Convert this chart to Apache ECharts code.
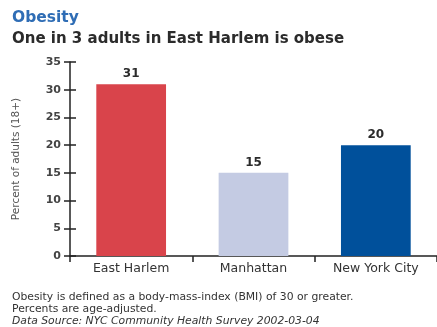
<!DOCTYPE html>
<html>
<head>
<meta charset="utf-8">
<style>
  html, body { margin: 0; padding: 0; background: #fff; }
  #chart { width: 437px; height: 327px; }
</style>
<script src="https://cdn.jsdelivr.net/npm/echarts@6/dist/echarts.min.js"></script>
</head>
<body>
<div id="chart"></div>
<script>
// Obesity rates among adults, by area
const categories = ['East Harlem', 'Manhattan', 'New York City'];
const values = [31, 15, 20];
const barColors = ['#D9444B', '#C4CBE3', '#00509B'];
const yTicks = [0, 5, 10, 15, 20, 25, 30, 35];

const FONT = '"DejaVu Sans", "Open Sans", sans-serif';
const axisDark = '#222';

const chart = echarts.init(document.getElementById('chart'), null, { renderer: 'canvas' });

const yMin = yTicks[0];
const yMax = yTicks[yTicks.length - 1];
const yStep = yTicks[1] - yTicks[0];

chart.setOption({
  animation: false,
  backgroundColor: '#fff',
  title: [
    {
      text: 'Obesity',
      left: 7, top: 5,
      textStyle: { fontFamily: FONT, fontSize: 15.5, fontWeight: 'bold', color: '#2F6DB5' }
    },
    {
      text: 'One in 3 adults in East Harlem is obese',
      left: 7, top: 27,
      textStyle: { fontFamily: FONT, fontSize: 15, fontWeight: 'bold', color: '#2b2b2b' }
    }
  ],
  graphic: [
    {
      type: 'text', left: 12, top: 292,
      style: { text: 'Obesity is defined as a body-mass-index (BMI) of 30 or greater.', font: '10.8px ' + FONT, fill: '#333' }
    },
    {
      type: 'text', left: 12, top: 304,
      style: { text: 'Percents are age-adjusted.', font: '10.8px ' + FONT, fill: '#333' }
    },
    {
      type: 'text', left: 12, top: 316,
      style: { text: 'Data Source: NYC Community Health Survey 2002-03-04', font: 'italic 10.8px ' + FONT, fill: '#333' }
    }
  ],
  grid: { left: 70, right: 0, top: 62, bottom: 71, containLabel: false },
  xAxis: {
    type: 'category',
    data: categories,
    axisLine: { lineStyle: { color: axisDark, width: 1.5 } },
    axisTick: { show: true, length: 6, alignWithLabel: false, lineStyle: { color: axisDark, width: 1.5 } },
    axisLabel: { fontFamily: FONT, fontSize: 12.5, color: '#333', margin: 6 }
  },
  yAxis: [
    {
      type: 'value',
      min: yMin, max: yMax, interval: yStep,
      name: 'Percent of adults (18+)',
      nameLocation: 'middle',
      nameGap: 48,
      nameRotate: 90,
      nameTextStyle: { fontFamily: FONT, fontSize: 10.5, color: '#555' },
      axisLine: { show: true, lineStyle: { color: axisDark, width: 1.5 } },
      axisTick: { show: true, length: 6, lineStyle: { color: axisDark, width: 1.5 } },
      axisLabel: { fontFamily: FONT, fontSize: 11, fontWeight: 'bold', color: '#444', margin: 9 },
      splitLine: { show: false }
    },
    {
      // inward half of the crossing ticks
      type: 'value',
      position: 'left',
      min: yMin, max: yMax, interval: yStep,
      axisLine: { show: false },
      axisTick: { show: true, inside: true, length: 6, lineStyle: { color: axisDark, width: 1.5 } },
      axisLabel: { show: false },
      splitLine: { show: false }
    }
  ],
  series: [
    {
      type: 'bar',
      yAxisIndex: 0,
      data: values.map((v, i) => ({ value: v, itemStyle: { color: barColors[i] } })),
      barWidth: '57%',
      label: {
        show: true,
        position: 'top',
        distance: 4,
        fontFamily: FONT,
        fontSize: 12,
        fontWeight: 'bold',
        color: '#2b2b2b'
      }
    }
  ]
});
</script>
</body>
</html>
